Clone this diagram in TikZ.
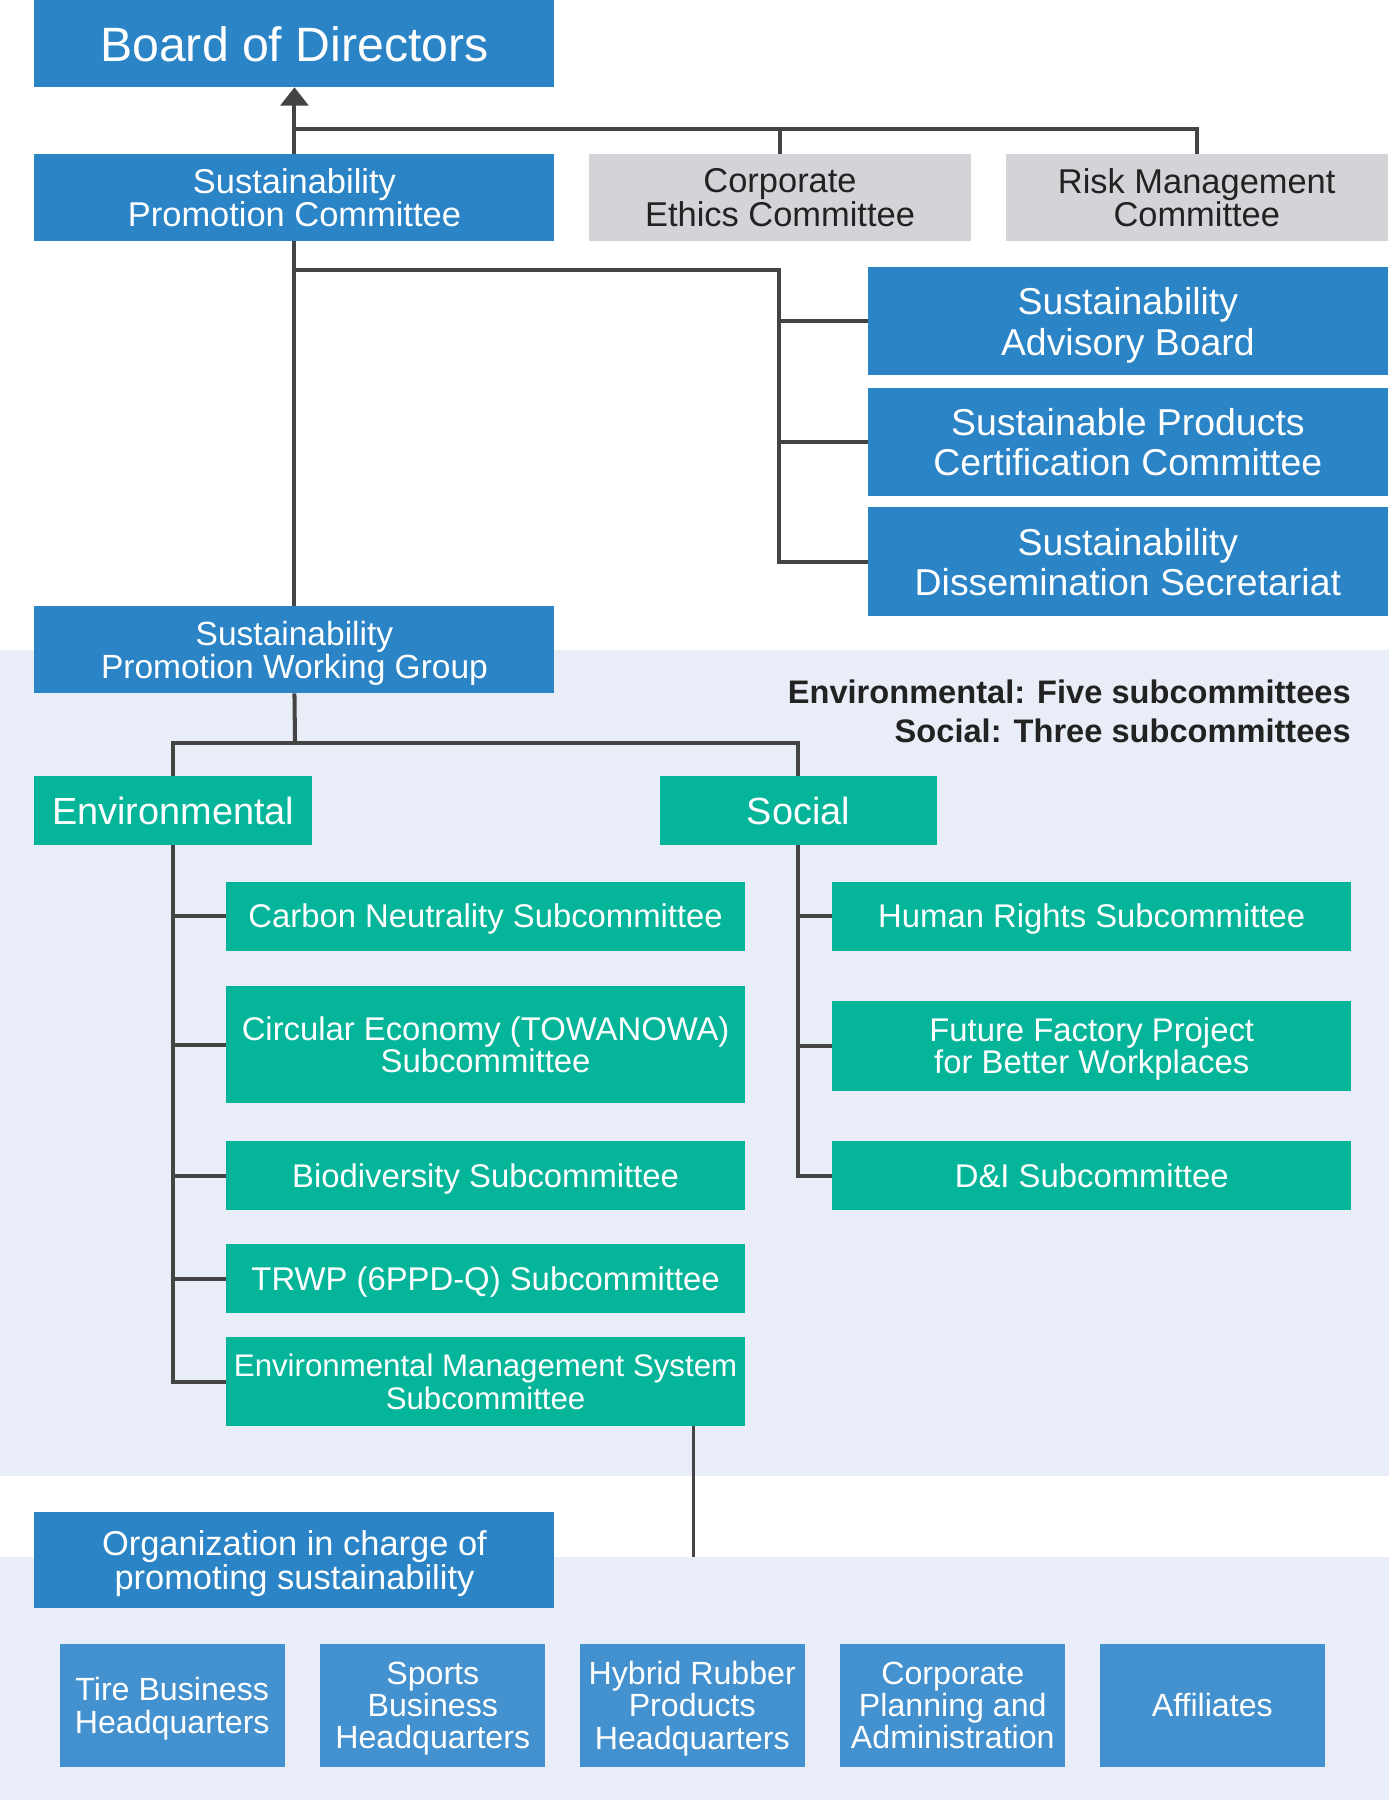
\documentclass[tikz,border=0pt]{standalone}
\usepackage{fontspec}
\setmainfont{Liberation Sans}
\usetikzlibrary{arrows.meta}
\definecolor{cblue}{HTML}{2A84C6}
\definecolor{cteal}{HTML}{04B59A}
\definecolor{cgray}{HTML}{D3D4D8}
\definecolor{cbg}{HTML}{E9EDF7}
\definecolor{cline}{HTML}{444444}
\definecolor{cbot}{HTML}{4391CE}
\definecolor{ctext}{HTML}{222222}
\newcommand\bx[7]{%
  \pgfmathsetmacro\bxw{(#4-#2)*0.5}%
  \pgfmathsetmacro\bxh{(#5-#3)*0.5}%
  \node[#6, minimum width=\bxw pt, minimum height=\bxh pt] (#1) at ({(#2+#4)/2},{(#3+#5)/2}) {#7};}
\tikzset{
  base/.style={inner sep=0pt, outer sep=0pt, align=center, text=white, text depth=0pt},
  bluebox/.style={base, fill=cblue},
  graybox/.style={base, fill=cgray, text=ctext},
  teal/.style={base, fill=cteal},
  botbox/.style={base, fill=cbot},
  fbig/.style={font=\fontsize{21}{21}\selectfont},
  fstd/.style={font=\fontsize{15}{14.5}\selectfont},
  fwg/.style={font=\fontsize{14.6}{14.5}\selectfont},
  fadv/.style={font=\fontsize{16.3}{17.5}\selectfont},
  flab/.style={font=\fontsize{16.5}{16.5}\selectfont},
  fsub/.style={font=\fontsize{14.3}{14.2}\selectfont},
  fems/.style={font=\fontsize{13.6}{14.5}\selectfont},
  fbot/.style={font=\fontsize{14}{14}\selectfont},
  fnote/.style={font=\bfseries\fontsize{14.2}{14.2}\selectfont},
  conn/.style={draw=cline, line width=1.75pt},
  thinconn/.style={draw=cline, line width=1.1pt},
}
\begin{document}
\begin{tikzpicture}[x=0.5pt,y=-0.5pt]
\useasboundingbox (0,0) rectangle (1210,1568);
\fill[white] (0,0) rectangle (1210,1568);
\fill[cbg] (0,566) rectangle (1210,1286);
\fill[cbg] (0,1356) rectangle (1210,1568);

% top
\bx{bod}{30}{0}{483}{76}{bluebox,fbig}{Board of Directors}
\bx{spc}{30}{134}{483}{210}{bluebox,fstd}{Sustainability\\Promotion Committee}
\bx{cec}{513}{134}{846}{210}{graybox,fstd}{Corporate\\Ethics Committee}
\bx{rmc}{876}{134}{1209}{210}{graybox,fstd}{Risk Management\\Committee}

\bx{adv}{756}{233}{1209}{327}{bluebox,fadv}{Sustainability\\Advisory Board}
\bx{cert}{756}{338}{1209}{432}{bluebox,fadv}{Sustainable Products\\Certification Committee}
\bx{sec}{756}{442}{1209}{537}{bluebox,fadv}{Sustainability\\Dissemination Secretariat}

\bx{wg}{30}{528}{483}{604}{bluebox,fwg}{Sustainability\\Promotion Working Group}

\node[anchor=base east, inner sep=0pt, text=ctext, fnote] (note1) at (1177,613) {Environmental: Five subcommittees};
\node[anchor=base east, inner sep=0pt, text=ctext, fnote] (note2) at (1177,647) {Social: Three subcommittees};

\bx{env}{30}{676}{272}{736}{teal,flab}{Environmental}
\bx{soc}{575}{676}{816}{736}{teal,flab}{Social}

\bx{carbon}{197}{768}{649}{828}{teal,fsub}{Carbon Neutrality Subcommittee}
\bx{circ}{197}{859}{649}{961}{teal,fsub}{Circular Economy (TOWANOWA)\\Subcommittee}
\bx{bio}{197}{994}{649}{1054}{teal,fsub}{Biodiversity Subcommittee}
\bx{trwp}{197}{1084}{649}{1144}{teal,fsub}{TRWP (6PPD-Q) Subcommittee}
\bx{ems}{197}{1165}{649}{1242}{teal,fems}{Environmental Management System\\Subcommittee}

\bx{hr}{725}{768}{1177}{828}{teal,fsub}{Human Rights Subcommittee}
\bx{ff}{725}{872}{1177}{950}{teal,fsub}{Future Factory Project\\for Better Workplaces}
\bx{di}{725}{994}{1177}{1054}{teal,fsub}{D\&I Subcommittee}

\bx{org}{30}{1317}{483}{1401}{bluebox,fstd}{Organization in charge of\\promoting sustainability}

\bx{tire}{52}{1432}{248}{1539}{botbox,fbot}{Tire Business\\Headquarters}
\bx{sport}{279}{1432}{475}{1539}{botbox,fbot}{Sports\\Business\\Headquarters}
\bx{hybrid}{505}{1432}{701}{1539}{botbox,fbot}{Hybrid Rubber\\Products\\Headquarters}
\bx{corp}{732}{1432}{928}{1539}{botbox,fbot}{Corporate\\Planning and\\Administration}
\bx{aff}{958}{1432}{1154}{1539}{botbox,fbot}{Affiliates}

% connectors
\coordinate (j1) at (257,112);
\draw[conn,-{Triangle[width=12pt,length=8pt]}] (spc.north) -- (bod.south);
\draw[conn] (j1) -- (j1 -| rmc.north) -- (rmc.north);
\draw[conn] (j1 -| cec.north) -- (cec.north);

\coordinate (j2) at (257,235);
\coordinate (j3) at (679,235);
\draw[conn] (spc.south) -- (wg.north);
\draw[conn] (j2) -- (j3) |- (sec.west);
\draw[conn] (j3 |- adv.west) -- (adv.west);
\draw[conn] (j3 |- cert.west) -- (cert.west);

\coordinate (j4) at (257,647);
\draw[conn] (wg.south) -- (j4);
\draw[conn] (env.north) -- (env.north |- j4) -- (soc.north |- j4) -- (soc.north);

\draw[conn] (env.south) |- (ems.west);
\draw[conn] (env.south |- carbon.west) -- (carbon.west);
\draw[conn] (env.south |- circ.west) -- (circ.west);
\draw[conn] (env.south |- bio.west) -- (bio.west);
\draw[conn] (env.south |- trwp.west) -- (trwp.west);

\draw[conn] (soc.south) |- (di.west);
\draw[conn] (soc.south |- hr.west) -- (hr.west);
\draw[conn] (soc.south |- ff.west) -- (ff.west);

\coordinate (e1) at (604,1356);
\draw[thinconn] (e1 |- ems.south) -- (e1);
\end{tikzpicture}
\end{document}
